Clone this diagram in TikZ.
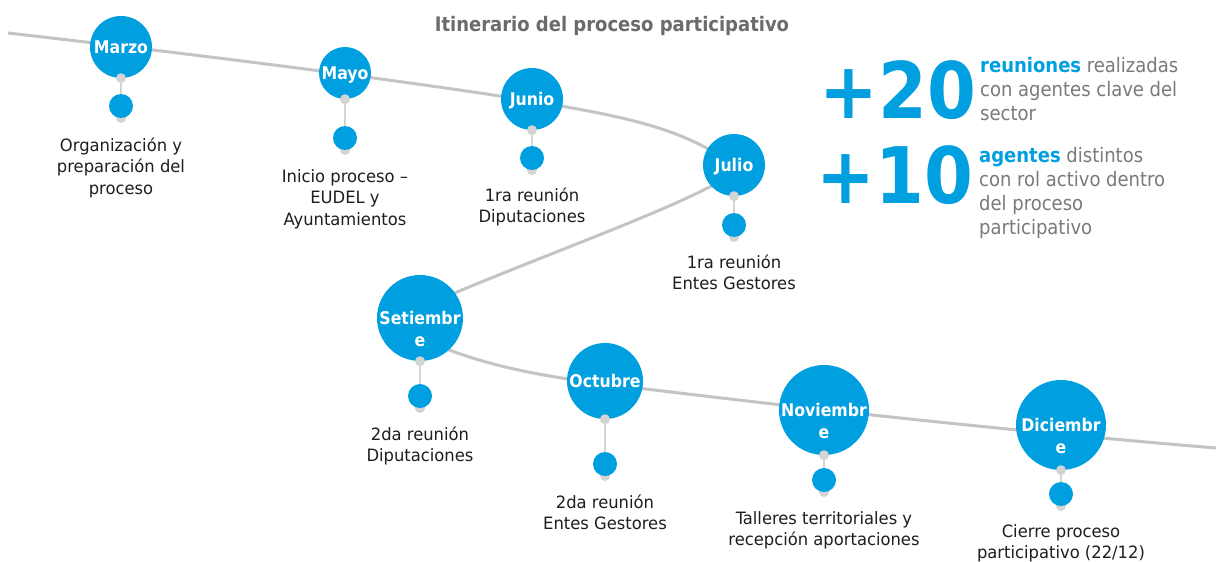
\documentclass[tikz,border=0pt]{standalone}
\usepackage{fontspec}
\setmainfont{DejaVu Sans Condensed}
\newfontfamily\lblfont{DejaVu Sans Condensed}[FakeStretch=1.07]
\definecolor{mblue}{HTML}{009FDF}
\definecolor{linegray}{HTML}{C4C4C4}
\definecolor{dotgray}{HTML}{D4D4D4}
\definecolor{labeltext}{HTML}{1E1E1E}
\definecolor{titlegray}{HTML}{6B6B6B}
\definecolor{statgray}{HTML}{7A7A7A}
\newcommand\mlines[2]{\begin{tabular}[t]{@{}#1@{}}#2\end{tabular}}
\begin{document}
\begin{tikzpicture}[x=1pt,y=1pt,
  timeline/.style={draw=linegray, line width=3pt},
  month/.style={circle, fill=mblue, inner sep=0pt},
  mtext/.style={text=white, font=\bfseries\fontsize{17.5}{22}\selectfont, anchor=base, inner sep=0pt},
  gdot/.style={circle, fill=dotgray, minimum size=10pt, inner sep=0pt},
  bdot/.style={circle, fill=mblue, minimum size=24pt, inner sep=0pt},
  stem/.style={draw=dotgray, line width=2pt},
  lbl/.style={anchor=base, inner sep=0pt, text=labeltext, font=\lblfont\fontsize{17}{21.5}\selectfont},
  bignum/.style={anchor=base, inner sep=0pt, text=mblue, font=\bfseries\fontsize{78}{78}\selectfont},
  stattext/.style={anchor=base west, inner sep=0pt, text=statgray, font=\fontsize{20}{24}\selectfont},
]
\useasboundingbox[fill=white] (0,0) rectangle (1216,-562);

% title
\node[anchor=base, inner sep=0pt, text=titlegray, font=\bfseries\fontsize{20}{24}\selectfont] (title) at (612,-31) {Itinerario del proceso participativo};

% timeline curve
\draw[timeline] (8,-33) .. controls (200,-55) and (400,-80) .. (532,-101)
  .. controls (620,-116) and (690,-128) .. (738,-170)
  .. controls (690,-205) and (540,-255) .. (415,-310)
  -- (425,-340)
  .. controls (480,-365) and (540,-376) .. (605,-384)
  .. controls (800,-408) and (1000,-430) .. (1216,-448);

\foreach \nm/\cx/\cy/\dm/\by/\ly/\mt/\lt in {
  marzo/121/47/62/106/151/{Marzo}/{Organización y\\preparación del\\proceso},
  mayo/345/73/52/138/182/{Mayo}/{Inicio proceso –\\EUDEL y\\Ayuntamientos},
  junio/532/99/62/158/201/{Junio}/{1ra reunión\\Diputaciones},
  julio/734/165/62/225/268/{Julio}/{1ra reunión\\Entes Gestores},
  setiembre/420/318/86/396/440/{Setiembr\\e}/{2da reunión\\Diputaciones},
  octubre/605/381/76/464/508/{Octubre}/{2da reunión\\Entes Gestores},
  noviembre/824/410/90/480/524/{Noviembr\\e}/{Talleres territoriales y\\recepción aportaciones},
  diciembre/1061/425/90/494/537/{Diciembr\\e}/{Cierre proceso\\participativo (22/12)}%
}{
  \node[month, minimum size=\dm pt] (\nm) at (\cx,-\cy) {};
  \node[mtext] (\nm-t) at (\cx,-\cy-6.5) {\mlines{c}{\mt}};
  \coordinate (\nm-p) at (\cx,-\by);
  \draw[stem] (\nm.south) -- (\nm-p);
  \node[gdot] (\nm-s) at ([yshift=-12pt]\nm-p) {};
  \node[bdot] (\nm-b) at (\nm-p) {};
  \node[gdot] (\nm-g) at (\nm.south) {};
  \node[lbl] (\nm-l) at (\cx,-\ly) {\mlines{c}{\lt}};
}

% statistics
\node[bignum] (n20) at (898,-118) {+20};
\node[stattext] (t20) at (980,-72) {\mlines{l}{\textcolor{mblue}{\bfseries reuniones} realizadas\\con agentes clave del\\sector}};
\node[bignum] (n10) at (895,-203) {+10};
\node[stattext] (t10) at (979,-162) {\mlines{l}{\textcolor{mblue}{\bfseries agentes} distintos\\con rol activo dentro\\del proceso\\participativo}};
\end{tikzpicture}
\end{document}
